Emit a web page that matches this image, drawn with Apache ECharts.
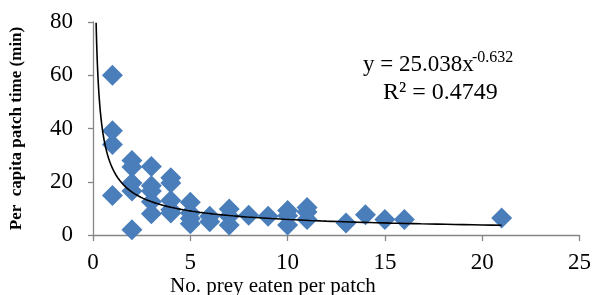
<!DOCTYPE html>
<html>
<head>
<meta charset="utf-8">
<script src="https://cdn.jsdelivr.net/npm/echarts@6/dist/echarts.min.js"></script>
<style>
  html, body { margin: 0; padding: 0; background: #fff; }
  #main { width: 594px; height: 295px; }
</style>
</head>
<body>
<div id="main"></div>
<script>
  // prey eaten per patch vs per capita patch time
  var preyEaten = [1, 1, 1, 1, 2, 2, 2, 2, 2, 3, 3, 3, 3, 3, 4, 4, 4, 4, 4,
                   5, 5, 5, 5, 6, 6, 7, 7, 7, 8, 9, 10, 10, 10, 11, 11, 11,
                   13, 14, 15, 16, 21];
  var patchTime = [60, 39.2, 34, 14.8, 28, 25.5, 19.5, 16.5, 2, 25.7, 18.5, 16.5, 12.5, 8, 21.5, 19.5, 13, 9.5, 8.3,
                   12.3, 8.3, 6.2, 4.2, 7, 5, 9.8, 7, 3.8, 7.4, 7, 9.2, 7.2, 3.8, 10.3, 8.6, 5.8,
                   4.5, 7.6, 5.8, 5.8, 6.4];
  // power trendline from the chart: y = a * x^b
  var trendCoef = [25.038, -0.632];
  var trendRange = [0.16, 21];
  var xTicks = { min: 0, max: 25, interval: 5 };
  var yTicks = { min: 0, max: 80, interval: 20 };

  var points = preyEaten.map(function (x, i) { return [x, patchTime[i]]; });
  var trend = [];
  for (var k = 0; k <= 200; k++) {
    var t = trendRange[0] * Math.pow(trendRange[1] / trendRange[0], k / 200);
    trend.push([t, trendCoef[0] * Math.pow(t, trendCoef[1])]);
  }

  var myChart = echarts.init(document.getElementById('main'));
  var font = '"Liberation Serif", "Times New Roman", serif';
  var axisGrey = '#868686';

  var option = {
    animation: false,
    textStyle: { fontFamily: font },
    grid: { left: 93, right: 13, top: 22, bottom: 60 },
    xAxis: {
      type: 'value',
      min: xTicks.min, max: xTicks.max, interval: xTicks.interval,
      axisLine: { show: true, lineStyle: { color: axisGrey, width: 1.3 } },
      axisTick: { show: true, length: 6, lineStyle: { color: axisGrey, width: 1.3 } },
      splitLine: { show: false },
      axisLabel: { color: '#000', fontSize: 23, fontFamily: font, margin: 16 }
    },
    yAxis: {
      type: 'value',
      min: yTicks.min, max: yTicks.max, interval: yTicks.interval,
      axisLine: { show: true, lineStyle: { color: axisGrey, width: 1.3 } },
      axisTick: { show: true, length: 5, lineStyle: { color: axisGrey, width: 1.3 } },
      splitLine: { show: false },
      axisLabel: { color: '#000', fontSize: 23, fontFamily: font, margin: 20 },
      name: 'Per  capita patch time (min)',
      nameLocation: 'middle',
      nameGap: 68,
      nameTextStyle: { color: '#000', fontSize: 17, fontWeight: 'bold', fontFamily: font }
    },
    graphic: [
      {
        type: 'text', x: 170, y: 286,
        style: { text: 'No. prey eaten per patch', fill: '#000', font: '21px ' + font, verticalAlign: 'middle' }
      },
      {
        type: 'text', x: 363, y: 65,
        style: { text: 'y = 25.038x', fill: '#000', font: '23px ' + font, verticalAlign: 'middle' }
      },
      {
        type: 'text', x: 472, y: 58,
        style: { text: '-0.632', fill: '#000', font: '16px ' + font, verticalAlign: 'middle' }
      },
      {
        type: 'text', x: 383, y: 93,
        style: { text: 'R² = 0.4749', fill: '#000', font: '24px ' + font, verticalAlign: 'middle' }
      }
    ],
    series: [
      {
        type: 'scatter',
        data: points,
        symbol: 'diamond',
        symbolSize: 21,
        itemStyle: { color: '#4a7ebb', opacity: 1 },
        z: 2
      },
      {
        type: 'line',
        data: trend,
        showSymbol: false,
        smooth: false,
        lineStyle: { color: '#000', width: 1.6 },
        z: 3
      }
    ]
  };

  myChart.setOption(option);
</script>
</body>
</html>
